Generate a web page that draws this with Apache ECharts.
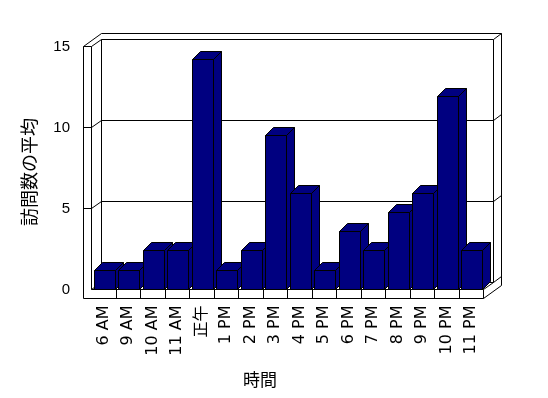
<!DOCTYPE html>
<html><head><meta charset="utf-8">
<script src="https://cdn.jsdelivr.net/npm/echarts@6/dist/echarts.min.js"></script>
<style>html,body{margin:0;padding:0;background:#fff}#c{width:548px;height:398px}</style>
</head><body><div id="c"></div>
<script>
const categories = ['6 AM','9 AM','10 AM','11 AM','正午','1 PM','2 PM','3 PM','4 PM','5 PM','6 PM','7 PM','8 PM','9 PM','10 PM','11 PM'];
const visits = [1.19,1.19,2.38,2.38,14.2,1.19,2.38,9.5,5.95,1.19,3.57,2.38,4.76,5.95,11.9,2.38];
const yTicks = [0,5,10,15];
const xTitle = '時間';
const yTitle = '訪問数の平均';

const chart = echarts.init(document.getElementById('c'), null, {renderer:'canvas'});
const D = [10,-7];     // chart depth offset
const T = [8,-6];      // wall thickness offset
const WALL = 8, FLOOR = 9;
const BD = [8,-8];     // bar depth offset
const NAVY = '#000080';
const crisp = v => Math.round(v - 0.5) + 0.5;
const yMax = yTicks[yTicks.length-1];

function renderFrame(params, api){
  const band = api.size([1,0])[0];
  const xl = crisp(api.coord([0,0])[0] - band/2);
  const xr = crisp(api.coord([categories.length-1,0])[0] + band/2);
  const y0 = crisp(api.coord([0,0])[1]);
  const yT = crisp(api.coord([0,yMax])[1]);
  const ls = {stroke:'#000', lineWidth:1, fill:null};
  const ch = [];
  const line = pts => ch.push({type:'polyline', shape:{points:pts}, style:ls});
  ch.push({type:'polygon', shape:{points:[
    [xl-WALL, y0+FLOOR],[xr, y0+FLOOR],[xr+D[0]+T[0], y0+FLOOR+D[1]+T[1]],
    [xr+D[0]+T[0], yT+D[1]+T[1]],[xl-WALL+D[0]+T[0], yT+D[1]+T[1]],[xl-WALL, yT]
  ]}, style:{fill:'#fff', stroke:'#000', lineWidth:1}});
  // back wall inner face
  ch.push({type:'rect', shape:{x:xl+D[0], y:yT+D[1], width:xr-xl, height:y0-yT}, style:ls});
  // left wall front face and edges
  line([[xl-WALL,yT],[xl,yT],[xl,y0]]);
  line([[xl,yT],[xl+D[0],yT+D[1]]]);
  line([[xr+D[0],yT+D[1]],[xr+D[0]+T[0],yT+D[1]+T[1]]]);
  // floor
  line([[xl,y0],[xr,y0],[xr,y0+FLOOR]]);
  line([[xr,y0],[xr+D[0],y0+D[1]]]);
  line([[xl,y0],[xl+D[0],y0+D[1]]]);
  line([[xr+D[0],y0+D[1]],[xr+D[0]+T[0],y0+D[1]+T[1]]]);
  // gridlines
  yTicks.forEach(v => {
    if (v === 0 || v === yMax) return;
    const y = crisp(api.coord([0,v])[1]);
    line([[xl-WALL,y],[xl,y],[xl+D[0],y+D[1]],[xr+D[0],y+D[1]],[xr+D[0]+T[0],y+D[1]+T[1]]]);
  });
  // floor ticks
  for (let i = 1; i < categories.length; i++){
    const x = crisp(api.coord([i,0])[0] - band/2);
    line([[x,y0],[x,y0+FLOOR]]);
  }
  return {type:'group', children:ch};
}

function renderBar(params, api){
  const i = api.value(0), v = api.value(1);
  const base = api.coord([i,0]), top = api.coord([i,v]);
  const x0 = crisp(base[0] - 9.5), x1 = x0 + 21;
  const yB = crisp(base[1]), yT = crisp(top[1]);
  const st = {fill:NAVY, stroke:'#000', lineWidth:1};
  return {type:'group', children:[
    {type:'polygon', shape:{points:[[x1,yT],[x1+BD[0],yT+BD[1]],[x1+BD[0],yB+BD[1]],[x1,yB]]}, style:st},
    {type:'polygon', shape:{points:[[x0,yT],[x1,yT],[x1+BD[0],yT+BD[1]],[x0+BD[0],yT+BD[1]]]}, style:st},
    {type:'rect', shape:{x:x0, y:yT, width:x1-x0, height:yB-yT}, style:st}
  ]};
}

chart.setOption({
  animation:false,
  backgroundColor:'#fff',
  grid:{left:91.5, top:46.5, width:392, height:243},
  xAxis:{type:'category', data:categories, axisLine:{show:false}, axisTick:{show:false}, splitLine:{show:false},
    axisLabel:{interval:0, rotate:90, margin:16, fontSize:16, color:'#000', fontFamily:'DejaVu Sans, Noto Sans CJK JP'}},
  yAxis:{type:'value', min:0, max:yMax, interval:5, axisLine:{show:false}, axisTick:{show:false}, splitLine:{show:false},
    axisLabel:{margin:21.5, fontSize:15, color:'#000', fontFamily:'Liberation Sans, Noto Sans CJK JP'}},
  graphic:[
    {type:'text', x:29, y:172, rotation:Math.PI/2, style:{text:yTitle, fontSize:18, fill:'#000', align:'center', verticalAlign:'middle', fontFamily:'Noto Sans CJK JP'}},
    {type:'text', x:260, y:380, style:{text:xTitle, fontSize:17, fill:'#000', align:'center', verticalAlign:'middle', fontFamily:'Noto Sans CJK JP'}}
  ],
  series:[
    {type:'custom', z:1, silent:true, renderItem:renderFrame, data:[[0,0]], encode:{x:0,y:1}},
    {type:'custom', z:2, silent:true, renderItem:renderBar, data:visits.map((v,i)=>[i,v]), encode:{x:0,y:1}}
  ]
});
</script></body></html>
